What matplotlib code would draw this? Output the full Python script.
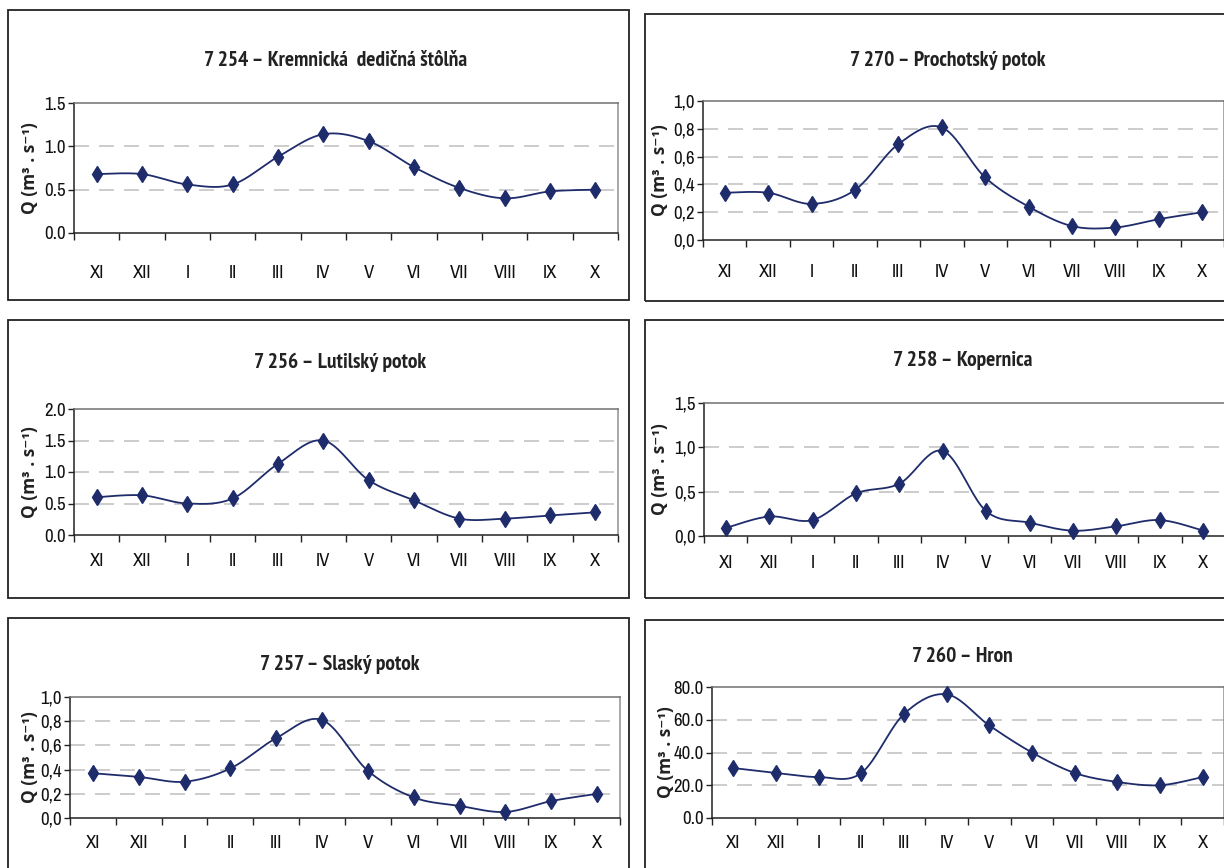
import numpy as np
import matplotlib
matplotlib.use("Agg")
import matplotlib.pyplot as plt
from matplotlib.patches import Rectangle
from matplotlib.ticker import FixedLocator, FuncFormatter
import logging
logging.getLogger("matplotlib.font_manager").setLevel(logging.ERROR)

months = ["XI", "XII", "I", "II", "III", "IV", "V", "VI", "VII", "VIII", "IX", "X"]

titles = [
    "7 254 – Kremnická  dedičná štôlňa",
    "7 270 – Prochotský potok",
    "7 256 – Lutilský potok",
    "7 258 – Kopernica",
    "7 257 – Slaský potok",
    "7 260 – Hron",
]

q_7254 = [0.68, 0.68, 0.56, 0.56, 0.88, 1.14, 1.06, 0.76, 0.52, 0.40, 0.48, 0.50]
q_7270 = [0.34, 0.34, 0.26, 0.36, 0.69, 0.81, 0.45, 0.24, 0.10, 0.09, 0.15, 0.20]
q_7256 = [0.60, 0.63, 0.50, 0.58, 1.13, 1.50, 0.87, 0.55, 0.26, 0.26, 0.31, 0.36]
q_7258 = [0.09, 0.22, 0.18, 0.48, 0.59, 0.96, 0.28, 0.15, 0.06, 0.11, 0.18, 0.06]
q_7257 = [0.37, 0.34, 0.30, 0.41, 0.66, 0.81, 0.39, 0.17, 0.10, 0.05, 0.14, 0.20]
q_7260 = [30.5, 27.5, 25.0, 27.5, 63.5, 75.5, 56.5, 40.0, 27.5, 22.0, 20.0, 25.0]

series = [q_7254, q_7270, q_7256, q_7258, q_7257, q_7260]
yticks = [
    [0.0, 0.5, 1.0, 1.5],
    [0.0, 0.2, 0.4, 0.6, 0.8, 1.0],
    [0.0, 0.5, 1.0, 1.5, 2.0],
    [0.0, 0.5, 1.0, 1.5],
    [0.0, 0.2, 0.4, 0.6, 0.8, 1.0],
    [0.0, 20.0, 40.0, 60.0, 80.0],
]
decimal_sep = [".", ",", ".", ",", ",", "."]

W, H = 1224, 868
axes_px = [
    (74, 103, 618, 233),
    (703, 101, 1224, 240),
    (74, 409, 618, 535),
    (704, 403, 1225, 536),
    (70, 697, 620, 818),
    (712, 687, 1224, 818),
]
title_px = [(336, 60), (948, 60), (340, 362), (963, 361), (340, 664), (962, 656)]
box_px = [
    (8, 10, 629, 300),
    (645, 14, 1240, 301),
    (8, 320, 629, 598),
    (645, 320, 1240, 598),
    (8, 618, 629, 880),
    (645, 620, 1240, 880),
]
label_pad = [23, 17, 13, 14, 12, 12]
ylabel_x = [30, 660, 30, 660, 30, 666]

line_color = "#1f2c6b"
narrow = ["Archivo Narrow", "Liberation Sans Narrow", "Roboto Condensed", "DejaVu Sans"]
cond_bold = ["PT Sans Narrow", "Roboto Condensed", "Open Sans", "DejaVu Sans"]
label_font = ["Open Sans", "DejaVu Sans"]

plt.rcParams["font.family"] = narrow

fig = plt.figure(figsize=(W / 100, H / 100), dpi=100)
fig.patch.set_facecolor("white")


def smooth(x, y, n=20):
    x = np.asarray(x, float)
    y = np.asarray(y, float)
    px = np.concatenate([[x[0]], x, [x[-1]]])
    py = np.concatenate([[y[0]], y, [y[-1]]])
    xs, ys = [], []
    t = np.linspace(0, 1, n)
    for i in range(1, len(px) - 2):
        p0 = np.array([px[i], py[i]])
        p3 = np.array([px[i + 1], py[i + 1]])
        c1 = p0 + (np.array([px[i + 1], py[i + 1]]) - np.array([px[i - 1], py[i - 1]])) / 6.0
        c2 = p3 - (np.array([px[i + 2], py[i + 2]]) - np.array([px[i], py[i]])) / 6.0
        b = ((1 - t) ** 3)[:, None] * p0 + (3 * (1 - t) ** 2 * t)[:, None] * c1 \
            + (3 * (1 - t) * t ** 2)[:, None] * c2 + (t ** 3)[:, None] * p3
        xs.extend(b[:, 0])
        ys.extend(b[:, 1])
    return np.array(xs), np.array(ys)


for k in range(6):
    x0, y0, x1, y1 = box_px[k]
    fig.patches.append(Rectangle((x0 / W, 1 - y1 / H), (x1 - x0) / W, (y1 - y0) / H,
                                 transform=fig.transFigure, fill=False,
                                 edgecolor="#222222", linewidth=1.3, zorder=0))

    l, t, r, b = axes_px[k]
    ax = fig.add_axes([l / W, 1 - b / H, (r - l) / W, (b - t) / H])
    xs = np.arange(len(months))
    vals = series[k]
    sx, sy = smooth(xs, vals)
    ax.plot(sx, sy, color=line_color, lw=1.3, zorder=3, clip_on=False)
    ax.plot(xs, vals, linestyle="none", marker="d", markersize=8,
            color=line_color, zorder=4, clip_on=False)

    yt = yticks[k]
    ax.set_ylim(yt[0], yt[-1])
    ax.set_xlim(-0.5, len(months) - 0.5)
    ax.yaxis.set_major_locator(FixedLocator(yt))
    sep = decimal_sep[k]
    ax.yaxis.set_major_formatter(FuncFormatter(lambda v, p, s=sep: f"{v:.1f}".replace(".", s)))
    for v in yt[1:-1]:
        ax.axhline(v, color="#c4c4c4", lw=1.2, dashes=(9, 6), zorder=1)

    ax.xaxis.set_major_locator(FixedLocator(np.arange(-0.5, len(months), 1.0)))
    ax.xaxis.set_major_formatter(FuncFormatter(lambda v, p: ""))
    ax.xaxis.set_minor_locator(FixedLocator(xs))
    ax.set_xticklabels(months, minor=True)
    ax.tick_params(axis="x", which="major", direction="out", length=5, width=1.0, color="#222222")
    ax.tick_params(axis="x", which="minor", length=0, pad=label_pad[k], labelsize=13.5,
                   labelcolor="#111111")
    ax.tick_params(axis="y", which="major", direction="out", length=4, width=1.0,
                   labelsize=13.5, pad=2, labelcolor="#111111", color="#222222")

    ax.spines["left"].set_color("#222222")
    ax.spines["bottom"].set_color("#222222")
    ax.spines["top"].set_color("#707070")
    ax.spines["right"].set_color("#909090")
    for s in ax.spines.values():
        s.set_linewidth(1.1)

    fig.text(ylabel_x[k] / W, 1 - ((t + b) / 2) / H, "Q (m³ . s⁻¹)", rotation=90,
             ha="center", va="center", fontsize=12.5, fontweight="bold", color="#222222",
             family=label_font)

    tx, ty = title_px[k]
    fig.text(tx / W, 1 - ty / H, titles[k], ha="center", va="center",
             fontsize=15.5, fontweight="bold", color="#222222", family=cond_bold)

fig.savefig("out.png", dpi=100, facecolor="white")
